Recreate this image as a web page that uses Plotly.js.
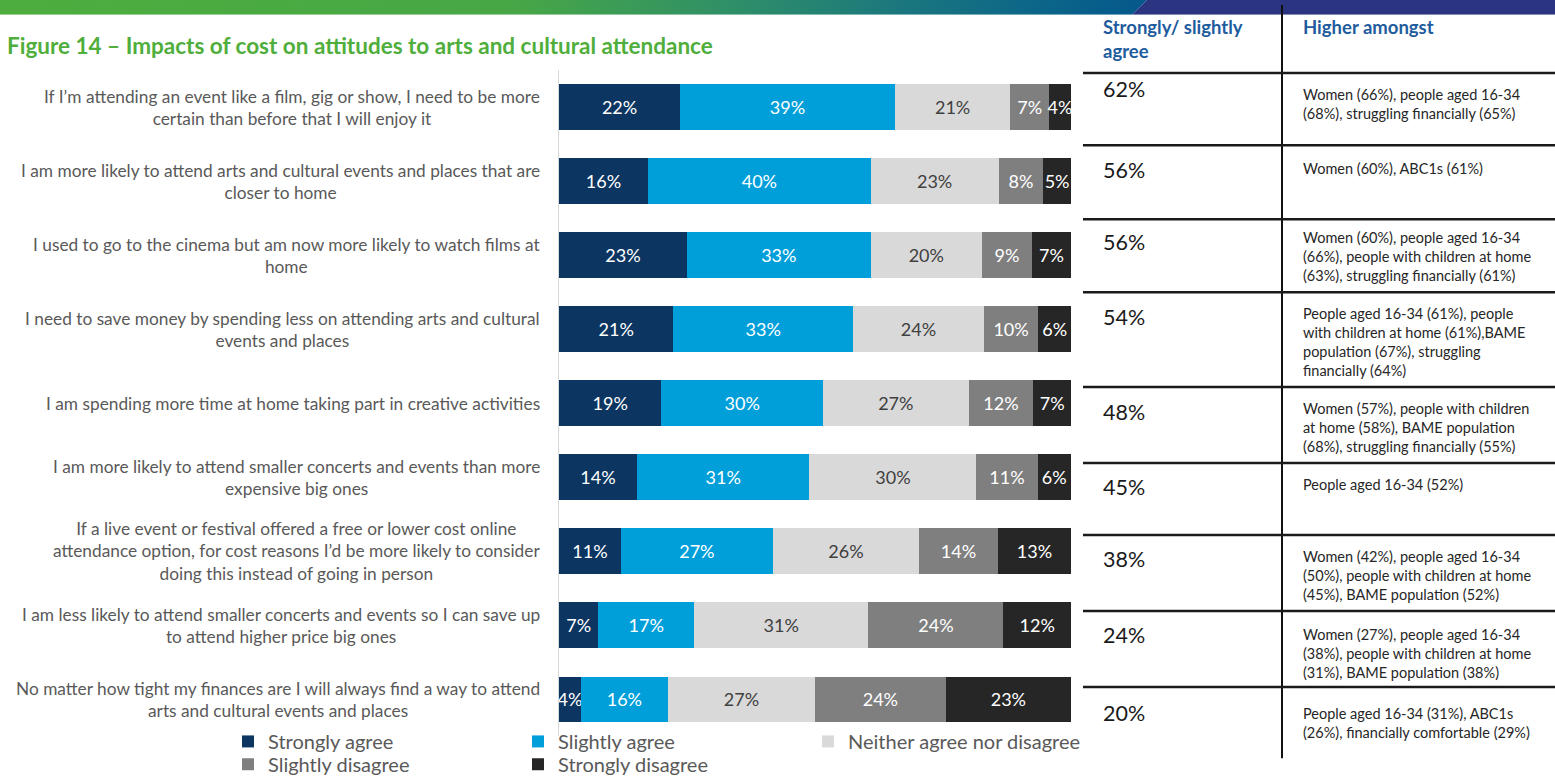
<!DOCTYPE html>
<html>
<head>
<meta charset="utf-8">
<script src="https://cdn.plot.ly/plotly-3.0.1.min.js"></script>
<style>
html,body{margin:0;padding:0;background:#ffffff;}
#chart{width:1555px;height:784px;}
</style>
</head>
<body>
<div id="chart"></div>
<script>
// ---------------- DATA ----------------
const statements = [
  "If I’m attending an event like a film, gig or show, I need to be more<br>certain than before that I will enjoy it",
  "I am more likely to attend arts and cultural events and places that are<br>closer to home",
  "I used to go to the cinema but am now more likely to watch films at<br>home",
  "I need to save money by spending less on attending arts and cultural<br>events and places",
  "I am spending more time at home taking part in creative activities",
  "I am more likely to attend smaller concerts and events than more<br>expensive big ones",
  "If a live event or festival offered a free or lower cost online<br>attendance option, for cost reasons I’d be more likely to consider<br>doing this instead of going in person",
  "I am less likely to attend smaller concerts and events so I can save up<br>to attend higher price big ones",
  "No matter how tight my finances are I will always find a way to attend<br>arts and cultural events and places"
];
const seriesNames = ["Strongly agree", "Slightly agree", "Neither agree nor disagree", "Slightly disagree", "Strongly disagree"];
const stronglyAgree    = [22, 16, 23, 21, 19, 14, 11, 7, 4];
const slightlyAgree    = [39, 40, 33, 33, 30, 31, 27, 17, 16];
const neither          = [21, 23, 20, 24, 27, 30, 26, 31, 27];
const slightlyDisagree = [7, 8, 9, 10, 12, 11, 14, 24, 24];
const stronglyDisagree = [4, 5, 7, 6, 7, 6, 13, 12, 23];
const netAgree = ["62%", "56%", "56%", "54%", "48%", "45%", "38%", "24%", "20%"];
const higherAmongst = [
  "Women (66%), people aged 16-34<br>(68%), struggling financially (65%)",
  "Women (60%), ABC1s (61%)",
  "Women (60%), people aged 16-34<br>(66%), people with children at home<br>(63%), struggling financially (61%)",
  "People aged 16-34 (61%), people<br>with children at home (61%),BAME<br>population (67%), struggling<br>financially (64%)",
  "Women (57%), people with children<br>at home (58%), BAME population<br>(68%), struggling financially (55%)",
  "People aged 16-34 (52%)",
  "Women (42%), people aged 16-34<br>(50%), people with children at home<br>(45%), BAME population (52%)",
  "Women (27%), people aged 16-34<br>(38%), people with children at home<br>(31%), BAME population (38%)",
  "People aged 16-34 (31%), ABC1s<br>(26%), financially comfortable (29%)"
];
const titleText = "Figure 14 – Impacts of cost on attitudes to arts and cultural attendance";
const headerNet = "Strongly/ slightly<br>agree";
const headerHigher = "Higher amongst";

// ---------------- STYLE / LAYOUT ----------------
const W = 1555, H = 784;
const fx = x => x / W;
const fy = y => 1 - y / H;
const FONT = "Lato, 'Open Sans', sans-serif";
const colors = ["#0C3661", "#009FDA", "#D9D9D9", "#7F7F7F", "#262626"];
const textColors = ["#ffffff", "#ffffff", "#404040", "#ffffff", "#ffffff"];
const seriesValues = [stronglyAgree, slightlyAgree, neither, slightlyDisagree, stronglyDisagree];

const traces = seriesValues.map((vals, i) => ({
  type: "bar",
  orientation: "h",
  name: seriesNames[i],
  y: statements,
  x: vals,
  text: vals.map(v => v + "%"),
  textposition: "inside",
  insidetextanchor: "middle",
  constraintext: "none",
  textangle: 0,
  insidetextfont: {family: FONT, size: 18, color: textColors[i]},
  marker: {color: colors[i], line: {width: 0}},
  width: 0.62,
  hoverinfo: "skip",
  legend: i < 3 ? "legend" : "legend2",
  showlegend: true
}));

// Banner as svg image
const bannerSvg =
  '<svg xmlns="http://www.w3.org/2000/svg" width="1555" height="15" viewBox="0 0 1555 15" preserveAspectRatio="none">' +
  '<defs><linearGradient id="g" x1="0" y1="0" x2="1147" y2="0" gradientUnits="userSpaceOnUse">' +
  '<stop offset="0" stop-color="#4DAE3E"/>' +
  '<stop offset="0.45" stop-color="#47A746"/>' +
  '<stop offset="0.64" stop-color="#2F8F68"/>' +
  '<stop offset="0.79" stop-color="#1A767E"/>' +
  '<stop offset="0.9" stop-color="#0C6688"/>' +
  '<stop offset="1" stop-color="#04588C"/>' +
  '</linearGradient></defs>' +
  '<polygon points="0,0 1147,0 1132,15 0,15" fill="url(#g)"/>' +
  '<polygon points="1147,0 1555,0 1555,15 1132,15" fill="#2B3480"/>' +
  '</svg>';

const annotations = [];
// category labels (centered multi-line)
statements.forEach(s => {
  annotations.push({
    xref: "paper", yref: "y", x: fx(542), y: s,
    xanchor: "right", yanchor: "middle", align: "center",
    text: s, showarrow: false,
    font: {family: FONT, size: 17.3, color: "#595959"}
  });
});
// table headers
annotations.push({xref: "paper", yref: "paper", x: fx(1101), y: fy(14), xanchor: "left", yanchor: "top", align: "left",
  text: "<b>" + headerNet.replace("<br>", "</b><br><b>") + "</b>", showarrow: false,
  font: {family: FONT, size: 18.5, color: "#1F5C9E"}});
annotations.push({xref: "paper", yref: "paper", x: fx(1301), y: fy(14), xanchor: "left", yanchor: "top", align: "left",
  text: "<b>" + headerHigher + "</b>", showarrow: false,
  font: {family: FONT, size: 18.5, color: "#1F5C9E"}});
// table rows
const pctCenters = [90, 172, 245, 321, 417, 493, 566, 643, 722];
const textTops = [85, 160, 230, 307, 403, 480, 553, 632, 712];
netAgree.forEach((p, i) => {
  annotations.push({xref: "paper", yref: "paper", x: fx(1101), y: fy(pctCenters[i]), xanchor: "left", yanchor: "middle",
    text: p, showarrow: false, font: {family: FONT, size: 21.5, color: "#1a1a1a"}});
  annotations.push({xref: "paper", yref: "paper", x: fx(1301), y: fy(textTops[i]), xanchor: "left", yanchor: "top", align: "left",
    text: higherAmongst[i], showarrow: false, font: {family: FONT, size: 14.5, color: "#262626"}});
});

const shapes = [];
shapes.push({type: "line", xref: "paper", yref: "paper", x0: fx(1282), x1: fx(1282), y0: fy(5), y1: fy(768),
  line: {color: "#111111", width: 2}});
[74, 147, 222, 296, 392, 469, 542, 619, 696].forEach(y => {
  shapes.push({type: "line", xref: "paper", yref: "paper", x0: fx(1083), x1: 1, y0: fy(y), y1: fy(y),
    line: {color: "#1a1a1a", width: 2.5}});
});

const legendBase = {
  orientation: "h", xanchor: "left", yanchor: "middle",
  entrywidth: 245, entrywidthmode: "pixels",
  font: {family: FONT, size: 20, color: "#595959"},
  bgcolor: "rgba(0,0,0,0)", borderwidth: 0, traceorder: "normal",
  itemclick: false, itemdoubleclick: false
};

const layout = {
  width: W, height: H,
  margin: {l: 0, r: 0, t: 0, b: 0},
  paper_bgcolor: "#ffffff", plot_bgcolor: "#ffffff",
  title: {text: "<b>" + titleText + "</b>", x: fx(7), xanchor: "left", y: fy(47), yanchor: "middle",
    xref: "paper", yref: "paper",
    font: {family: FONT, size: 22.5, color: "#4FAE3C"}},
  barmode: "stack",
  barnorm: "percent",
  xaxis: {domain: [fx(559), fx(1071)], range: [0, 100], visible: false, fixedrange: true},
  yaxis: {domain: [fy(746), fy(71)], type: "category", autorange: "reversed",
    showticklabels: false, ticks: "", showgrid: false, zeroline: false,
    showline: true, linecolor: "#D9D9D9", linewidth: 1.5, fixedrange: true},
  legend: Object.assign({}, legendBase, {x: fx(228), y: fy(751)}),
  legend2: Object.assign({}, legendBase, {x: fx(228), y: fy(774)}),
  annotations: annotations,
  shapes: shapes,
  images: [{
    source: "data:image/svg+xml;charset=utf-8," + encodeURIComponent(bannerSvg),
    xref: "paper", yref: "paper", x: 0, y: 1, sizex: 1, sizey: 15 / H,
    xanchor: "left", yanchor: "top", sizing: "stretch", layer: "above"
  }],
  showlegend: true,
  hovermode: false
};

Plotly.newPlot("chart", traces, layout, {displayModeBar: false, staticPlot: true});
</script>
</body>
</html>
